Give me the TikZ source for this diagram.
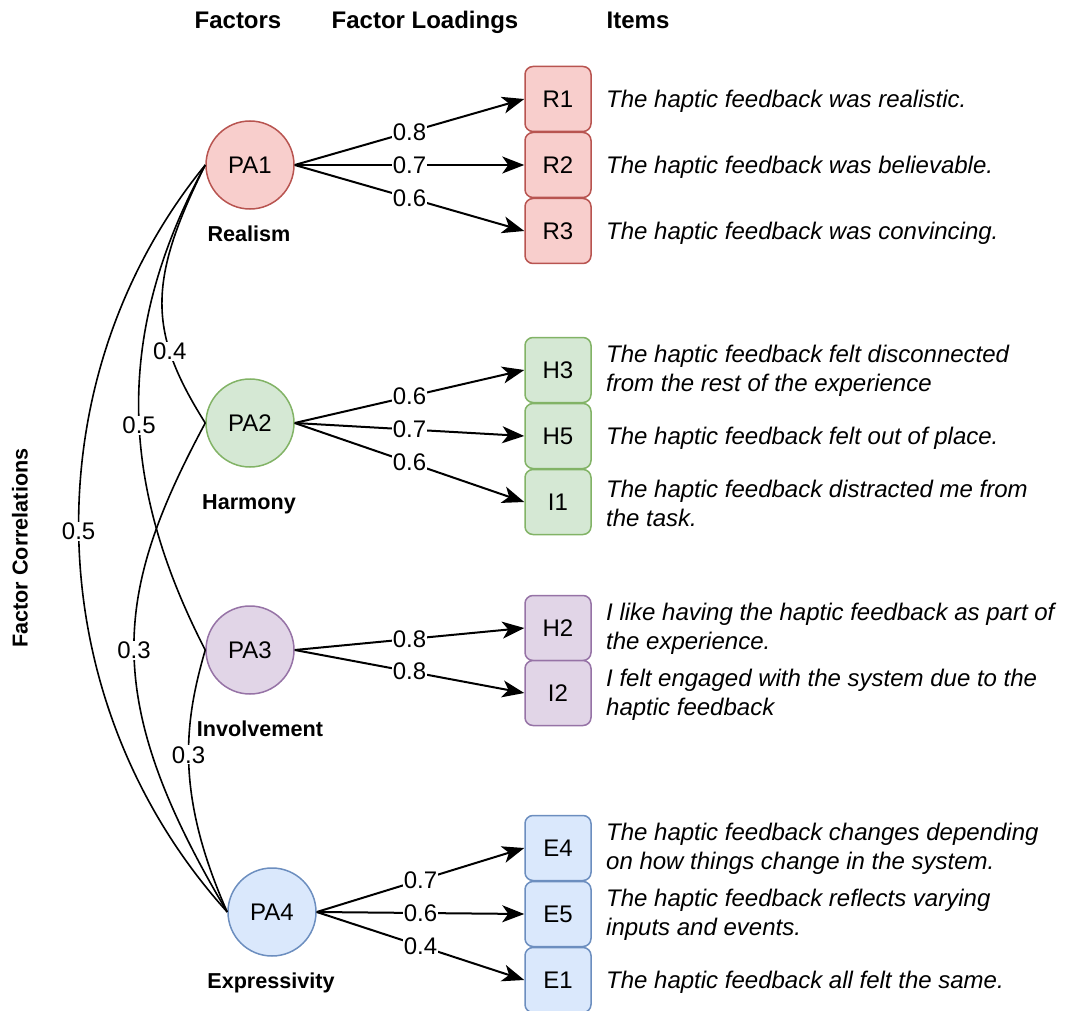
\documentclass[tikz,border=0pt]{standalone}
\usepackage{fontspec}
\setmainfont{Liberation Sans}
\usetikzlibrary{arrows.meta}
\definecolor{redF}{HTML}{F8CECC}\definecolor{redD}{HTML}{B85450}
\definecolor{greenF}{HTML}{D5E8D4}\definecolor{greenD}{HTML}{82B366}
\definecolor{purpleF}{HTML}{E1D5E7}\definecolor{purpleD}{HTML}{9673A6}
\definecolor{blueF}{HTML}{DAE8FC}\definecolor{blueD}{HTML}{6C8EBF}
\begin{document}
\begin{tikzpicture}[x=1pt,y=-1pt,
  factor/.style={circle, minimum size=88pt, inner sep=0pt, line width=1.5pt, font=\fontsize{24}{28}\selectfont},
  itembox/.style={rounded corners=8pt, minimum width=66pt, minimum height=65pt, inner sep=0pt, line width=1.5pt, font=\fontsize{24}{28}\selectfont},
  itemtext/.style={anchor=west, inner sep=0pt, align=left, font=\fontsize{24}{29}\selectfont\itshape},
  head/.style={inner sep=0pt, anchor=base, font=\fontsize{24}{29}\selectfont\bfseries},
  fname/.style={inner sep=0pt, font=\fontsize{21.6}{26}\selectfont\bfseries},
  load/.style={-{Stealth[length=22pt,width=17pt,inset=6pt]}, line width=2pt},
  lab/.style={fill=white, inner sep=1pt, font=\fontsize{24}{29}\selectfont},
  corr/.style={line width=1.6pt},
  red/.style={fill=redF, draw=redD},
  green/.style={fill=greenF, draw=greenD},
  purple/.style={fill=purpleF, draw=purpleD},
  blue/.style={fill=blueF, draw=blueD},
]
\useasboundingbox (0,0) rectangle (1066,1011);

% headers
\node[head] (hF) at (238,29) {Factors};
\node[head] (hL) at (425,29) {Factor Loadings};
\node[head] (hI) at (638,29) {Items};
\node[fname, rotate=90] (hC) at (20,548) {Factor Correlations};

% factors
\node[factor, red]    (PA1) at (250,165) {PA1};
\node[factor, green]  (PA2) at (250,423) {PA2};
\node[factor, purple] (PA3) at (250,650) {PA3};
\node[factor, blue]   (PA4) at (272,912) {PA4};

\node[fname] (nR) at (249,234) {Realism};
\node[fname] (nH) at (249,504) {Harmony};
\node[fname] (nI) at (260,729) {Involvement};
\node[fname] (nE) at (271,983) {Expressivity};

% item boxes
\node[itembox, red] (R1) at (558,99) {R1};
\node[itembox, red] (R2) at (558,165) {R2};
\node[itembox, red] (R3) at (558,231) {R3};
\node[itembox, green] (H3) at (558,370) {H3};
\node[itembox, green] (H5) at (558,436) {H5};
\node[itembox, green] (I1) at (558,502) {I1};
\node[itembox, purple] (H2) at (558,628) {H2};
\node[itembox, purple] (I2) at (558,693) {I2};
\node[itembox, blue] (E4) at (558,848) {E4};
\node[itembox, blue] (E5) at (558,914) {E5};
\node[itembox, blue] (E1) at (558,980) {E1};

% item texts
\node[itemtext] (tR1) at (606,101) {The haptic feedback was realistic.};
\node[itemtext] (tR2) at (606,167) {The haptic feedback was believable.};
\node[itemtext] (tR3) at (606,233) {The haptic feedback was convincing.};
\node[itemtext] (tH3) at (606,371) {The haptic feedback felt disconnected\\from the rest of the experience};
\node[itemtext] (tH5) at (606,438) {The haptic feedback felt out of place.};
\node[itemtext] (tI1) at (606,503) {The haptic feedback distracted me from\\the task.};
\node[itemtext] (tH2) at (606,629) {I like having the haptic feedback as part of\\the experience.};
\node[itemtext] (tI2) at (606,695) {I felt engaged with the system due to the\\haptic feedback};
\node[itemtext] (tE4) at (606,849) {The haptic feedback changes depending\\on how things change in the system.};
\node[itemtext] (tE5) at (606,915) {The haptic feedback reflects varying\\inputs and events.};
\node[itemtext] (tE1) at (606,982) {The haptic feedback all felt the same.};

% loadings
\draw[load] (PA1.east) -- node[lab]{0.8} (R1.west);
\draw[load] (PA1.east) -- node[lab]{0.7} (R2.west);
\draw[load] (PA1.east) -- node[lab]{0.6} (R3.west);
\draw[load] (PA2.east) -- node[lab]{0.6} (H3.west);
\draw[load] (PA2.east) -- node[lab]{0.7} (H5.west);
\draw[load] (PA2.east) -- node[lab]{0.6} (I1.west);
\draw[load] (PA3.east) -- node[lab]{0.8} (H2.west);
\draw[load] (PA3.east) -- node[lab]{0.8} (I2.west);
\draw[load] (PA4.east) -- node[lab]{0.7} (E4.west);
\draw[load] (PA4.east) -- node[lab]{0.6} (E5.west);
\draw[load] (PA4.east) -- node[lab]{0.4} (E1.west);

% correlations
\draw[corr] (PA1.west) .. controls (147,282) and (148,332) .. (PA2.west) node[lab,pos=0.71]{0.4};
\draw[corr] (PA1.west) .. controls (110,340) and (123,490) .. (PA3.west) node[lab,pos=0.525]{0.5};
\draw[corr] (PA1.west) .. controls (30,380) and (36,700) .. (PA4.west) node[lab,pos=0.49]{0.5};
\draw[corr] (PA2.west) .. controls (114,593) and (99,697) .. (PA4.west) node[lab,pos=0.5]{0.3};
\draw[corr] (PA3.west) .. controls (185,720) and (174,792) .. (PA4.west) node[lab,pos=0.47]{0.3};
\end{tikzpicture}
\end{document}
